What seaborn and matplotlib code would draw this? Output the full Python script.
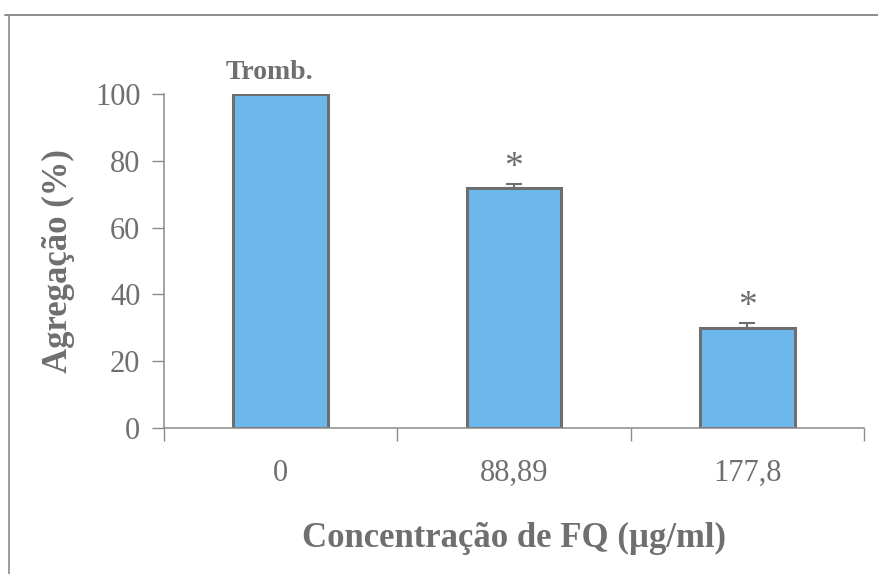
import matplotlib
matplotlib.use("Agg")
import matplotlib.pyplot as plt
from matplotlib.lines import Line2D
import seaborn as sns
import pandas as pd
import numpy as np

# Platelet aggregation vs. FQ concentration
concentrations = ["0", "88,89", "177,8"]
aggregation = [100, 72, 30]
sem_upper = [0, 1.2, 1.5]
bar_notes = ["Tromb.", "*", "*"]
y_ticks = [0, 20, 40, 60, 80, 100]

sns.set_theme(style="white")
plt.rcParams["font.family"] = ["Liberation Serif", "DejaVu Serif"]

TEXT = "#6f6f6f"
LINE = "#8a8a8a"
BAR = "#6cb8ec"
EDGE = "#6e6e6e"

df = pd.DataFrame({"conc": concentrations, "agg": aggregation})

fig = plt.figure(figsize=(8.79, 5.74), dpi=100)
ax = fig.add_axes([0.1866, 0.2544, 0.7964, 0.5818])

sns.barplot(data=df, x="conc", y="agg", order=concentrations, color=BAR,
            saturation=1, width=0.405, edgecolor=EDGE, linewidth=2.2,
            errorbar=None, ax=ax)

xpos = np.arange(len(concentrations))
yerr = np.array([[0] * len(sem_upper), sem_upper])
mask = np.array(sem_upper) > 0
ax.errorbar(xpos[mask], np.array(aggregation)[mask], yerr=yerr[:, mask],
            fmt="none", ecolor=EDGE, elinewidth=1.5, capsize=6, capthick=1.5,
            clip_on=False, zorder=5)

# annotations above bars
ax.text(xpos[0] - 0.05, aggregation[0] + 6.5, bar_notes[0], ha="center",
        va="center", fontsize=20, fontweight="bold", color=TEXT)
for i in (1, 2):
    ax.text(xpos[i], aggregation[i] + sem_upper[i] - 0.3, bar_notes[i],
            ha="center", va="bottom", fontsize=27, color=TEXT)

ax.set_xlim(-0.5, 2.5)
ax.set_ylim(0, 100)
ax.set_yticks(y_ticks)
ax.set_yticklabels([str(t) for t in y_ticks])
ax.set_xticks(xpos)
ax.set_xticklabels(concentrations)
ax.set_xticks([-0.5, 0.5, 1.5, 2.5], minor=True)

ax.tick_params(axis="y", which="major", direction="out", length=9, width=1,
               color=LINE, labelcolor=TEXT, labelsize=22, pad=8, left=True)
ax.tick_params(axis="x", which="major", length=0, labelcolor=TEXT,
               labelsize=22, pad=22)
ax.tick_params(axis="x", which="minor", direction="out", length=9, width=1,
               color=LINE, bottom=True)

for side in ("top", "right"):
    ax.spines[side].set_visible(False)
for side in ("left", "bottom"):
    ax.spines[side].set_color(LINE)
    ax.spines[side].set_linewidth(1.1)

ax.set_xlabel("Concentração de FQ (µg/ml)", fontsize=25, fontweight="bold",
              color=TEXT, labelpad=25)
ax.set_ylabel("Agregação (%)", fontsize=25, fontweight="bold", color=TEXT,
              labelpad=14)
ax.set_facecolor("white")
fig.patch.set_facecolor("white")

# partial frame around the figure (top and left edges)
fig.add_artist(Line2D([0.006, 1.0], [1 - 15 / 574, 1 - 15 / 574],
                      transform=fig.transFigure, color="#8c8c8c", lw=1.4))
fig.add_artist(Line2D([9 / 879, 9 / 879], [0.0, 1 - 15 / 574],
                      transform=fig.transFigure, color="#8c8c8c", lw=1.2))

fig.savefig("out.png", dpi=100, facecolor="white")
